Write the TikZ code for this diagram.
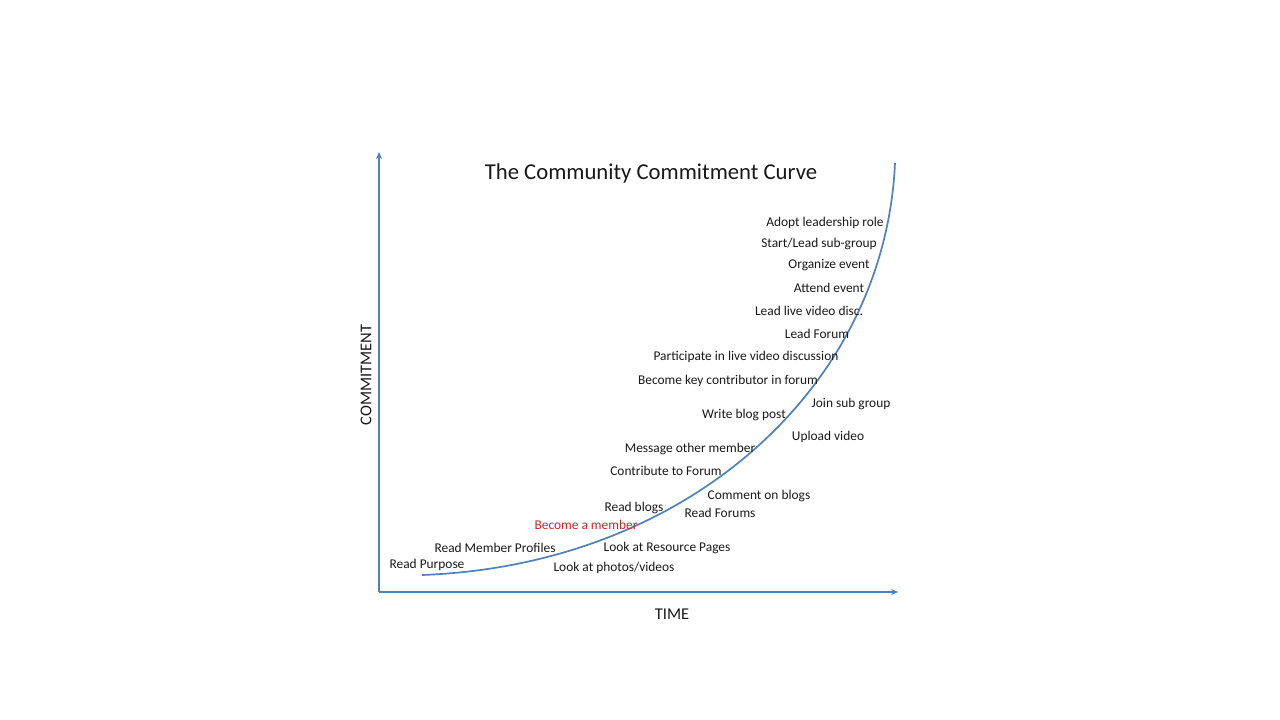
\documentclass[tikz,border=0pt]{standalone}
\usepackage{fontspec}
\setmainfont{Carlito}
\usetikzlibrary{positioning, arrows.meta, calc}
\definecolor{axisblue}{RGB}{79,129,189}
\definecolor{memberred}{RGB}{196,40,40}
\begin{document}
\begin{tikzpicture}[
        x=1pt, y=-1pt,
        % ----- 全局样式 -----
        >={Stealth[length=7pt,width=6pt]},
        axis/.style={draw=axisblue, line width=1.7pt, ->},
        curve/.style={draw=axisblue, line width=1.7pt},
        step label/.style={font=\fontsize{13.4}{15}\selectfont, text=black!90, inner sep=1pt, yshift=-1.5pt},
        title/.style={font=\fontsize{22.7}{26}\selectfont, text=black!90, yshift=-1.5pt},
        axis label/.style={font=\fontsize{16.5}{18}\selectfont, text=black!90}
    ]
    \useasboundingbox (0,0) rectangle (1280,720);

    % ----- 坐标轴 -----
    \coordinate (origin) at (379,592);
    \coordinate (ytip) at (379,152);
    \coordinate (xtip) at (898,592);
    \draw[axis] (origin) -- (ytip);
    \draw[axis] (origin) -- (xtip);

    \node[title] (title) at (651,172) {The Community Commitment Curve};
    \node[axis label] (time) at (672,614) {TIME};
    \node[axis label, rotate=90] (commit) at (366,375) {COMMITMENT};

    % ----- 曲线 -----
    \coordinate (cstart) at (422,575);
    \coordinate (cend) at (895,163);
    \draw[curve] (cstart) .. controls (690,565) and (885,385) .. (cend);

    % ----- 标签 -----
    \node[step label] (adopt) at (825,221) {Adopt leadership role};
    \node[step label] (startlead) at (819,242) {Start/Lead sub-group};
    \node[step label] (organize) at (829,264) {Organize event};
    \node[step label] (attend) at (829,286) {Attend event};
    \node[step label] (leadvideo) at (809,309) {Lead live video disc.};
    \node[step label] (leadforum) at (817,332) {Lead Forum};
    \node[step label] (partvideo) at (746,355) {Participate in live video discussion};
    \node[step label] (keycontrib) at (728,379) {Become key contributor in forum};
    \node[step label] (joinsub) at (851,402) {Join sub group};
    \node[step label] (writeblog) at (744,413) {Write blog post};
    \node[step label] (upload) at (828,435) {Upload video};
    \node[step label] (message) at (690,447) {Message other member};
    \node[step label] (contrib) at (666,469) {Contribute to Forum};
    \node[step label] (comment) at (759,494) {Comment on blogs};
    \node[step label] (readblogs) at (634,506) {Read blogs};
    \node[step label] (readforums) at (720,511) {Read Forums};
    \node[step label, text=memberred] (member) at (586,523) {Become a member};
    \node[step label] (profiles) at (495,546) {Read Member Profiles};
    \node[step label] (resources) at (667,546) {Look at Resource Pages};
    \node[step label] (purpose) at (427,563) {Read Purpose};
    \node[step label] (photos) at (614,566) {Look at photos/videos};
\end{tikzpicture}
\end{document}
